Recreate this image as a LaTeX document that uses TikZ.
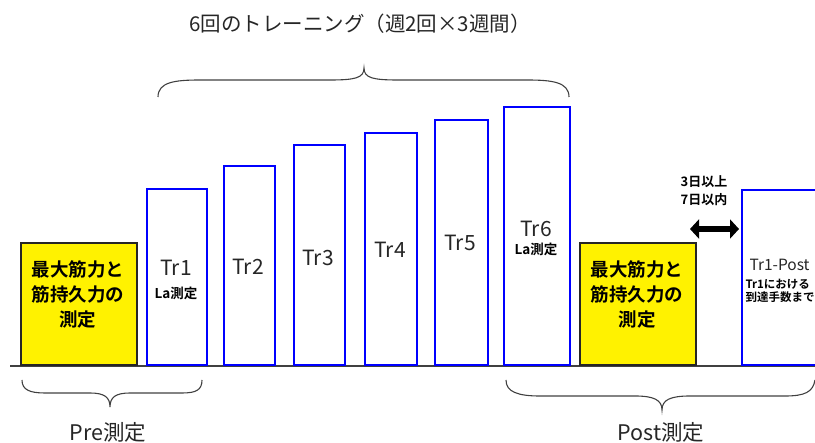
\documentclass[tikz,border=0pt]{standalone}
\usepackage{fontspec}
\setmainfont{Noto Sans CJK JP}
\newfontfamily\jpb{Noto Sans CJK JP Bold}
\usetikzlibrary{arrows.meta}
\begin{document}
\begin{tikzpicture}[x=1pt,y=-1pt,
  trbox/.style={draw=blue,line width=1.8pt,fill=white,anchor=south west,inner sep=0pt},
  ybox/.style={draw=black!85,line width=1.5pt,fill=yellow,anchor=south west,inner sep=0pt},
  trlab/.style={font=\fontsize{21}{23}\selectfont,text=black!85},
  lalab/.style={font=\jpb\fontsize{13.5}{15}\selectfont},
  ytext/.style={font=\jpb\fontsize{18.5}{25}\selectfont,align=center},
  brace/.style={draw=black!75,line width=1.1pt},
  caption/.style={font=\fontsize{21.5}{23}\selectfont,text=black!85}]
\useasboundingbox (0,0) rectangle (815,443);
\clip (0,0) rectangle (815,443);
% baseline
\draw[line width=1.5pt,black!75] (10,366) -- (815,366);
% yellow boxes
\node[ybox,minimum width=116pt,minimum height=122pt] (pre) at (20,366) {};
\node[ybox,minimum width=116pt,minimum height=122pt] (post) at (579,366) {};
\node[ytext] at (78,294) {最大筋力と\\筋持久力の\\測定};
\node[ytext] at (637,294) {最大筋力と\\筋持久力の\\測定};
% training boxes
\node[trbox,minimum width=60pt,minimum height=176pt] (tr1) at (146,366) {};
\node[trbox,minimum width=51pt,minimum height=199pt] (tr2) at (223,366) {};
\node[trbox,minimum width=51pt,minimum height=220pt] (tr3) at (293,366) {};
\node[trbox,minimum width=52pt,minimum height=232pt] (tr4) at (364,366) {};
\node[trbox,minimum width=53pt,minimum height=245pt] (tr5) at (434,366) {};
\node[trbox,minimum width=66pt,minimum height=258pt] (tr6) at (503,366) {};
\node[trbox,minimum width=90pt,minimum height=175pt] (trp) at (741,366) {};
\node[trlab] at (176,268) {Tr1};
\node[lalab] at (176,293) {La測定};
\node[trlab] at (248,267) {Tr2};
\node[trlab] at (318,258) {Tr3};
\node[trlab] at (390,250) {Tr4};
\node[trlab] at (460,243) {Tr5};
\node[trlab] at (536,229) {Tr6};
\node[lalab] at (536,249) {La測定};
\node[font=\fontsize{15.5}{17}\selectfont,text=black!85,anchor=west] at (746,265) {Tr1-Post};
\node[font=\jpb\fontsize{11.5}{13}\selectfont,anchor=west,align=left] at (742,291) {Tr1における\\到達手数まで};
% interval
\node[font=\jpb\fontsize{13}{18}\selectfont,align=center] (gap) at (704,191) {3日以上\\7日以内};
\coordinate (al) at (690,229);
\coordinate (ar) at (739,229);
\draw[line width=6.5pt,{Triangle[length=9pt,width=19pt]}-{Triangle[length=9pt,width=19pt]}] (al) -- (ar);
% braces
\draw[brace] (158,97) .. controls (158,82) and (175,80) .. (200,80) -- (330,80) .. controls (355,80) and (364,78) .. (364,68)
  .. controls (364,78) and (373,80) .. (398,80) -- (527,80) .. controls (552,80) and (569,82) .. (569,97);
\draw[brace] (22,380) .. controls (22,390) and (30,393) .. (45,393) -- (90,393) .. controls (104,393) and (110,397) .. (110,407)
  .. controls (110,397) and (116,393) .. (130,393) -- (182,393) .. controls (196,393) and (202,390) .. (202,380);
\draw[brace] (506,380) .. controls (506,392) and (518,396) .. (540,396) -- (635,396) .. controls (654,396) and (662,400) .. (662,410)
  .. controls (662,400) and (670,396) .. (690,396) -- (785,396) .. controls (805,396) and (813,392) .. (815,380);
% captions
\node[font=\fontsize{20.5}{22}\selectfont,text=black!85] (title) at (360,24) {6回のトレーニング（週2回×3週間）};
\node[caption] (precap) at (108,432) {Pre測定};
\node[caption] (postcap) at (661,432) {Post測定};
\end{tikzpicture}
\end{document}
